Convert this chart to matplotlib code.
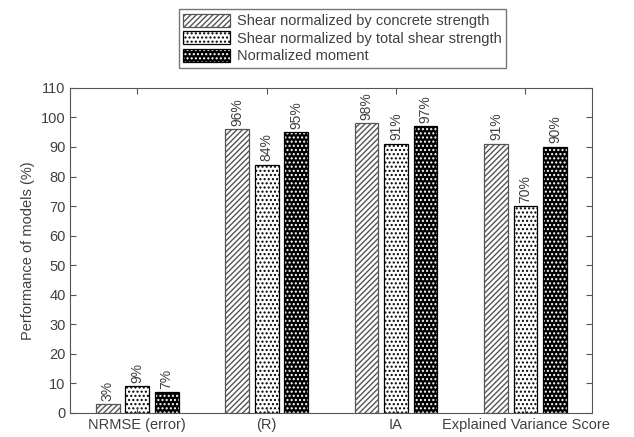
import matplotlib.pyplot as plt
import numpy as np
from matplotlib.patches import Patch

plt.rcParams['font.family'] = ['Liberation Sans', 'DejaVu Sans']
plt.rcParams['hatch.linewidth'] = 1.0

categories = ['NRMSE (error)', '(R)', 'IA', 'Explained Variance Score']
series_names = ['Shear normalized by concrete strength',
                'Shear normalized by total shear strength',
                'Normalized moment']
conc = [3, 96, 98, 91]
total = [9, 84, 91, 70]
moment = [7, 95, 97, 90]

x = np.arange(1, len(categories) + 1)
w = 0.185
step = 0.228

fig = plt.figure(figsize=(6.34, 4.37), dpi=100)
ax = fig.add_axes([0.111, 0.055, 0.823, 0.744])

txt_col = '#404040'

# series 1: grey diagonal lines
ax.bar(x - step, conc, w, color='white', edgecolor='#555555', hatch='//////', linewidth=0.9)
# series 2: black dots on white
ax.bar(x, total, w, color='white', edgecolor='black', hatch='....', linewidth=0.9)
# series 3: white dots on black
ax.bar(x + step, moment, w, color='black', edgecolor='white', hatch='....', linewidth=0)
ax.bar(x + step, moment, w, fill=False, edgecolor='black', linewidth=0.9)

for i, vals in enumerate([conc, total, moment]):
    pos = x + (i - 1) * step
    for p, v in zip(pos, vals):
        ax.text(p, v + 1.2, f'{v}%', rotation=90, ha='center', va='bottom',
                fontsize=10, color=txt_col)

ax.set_xlim(0.485, 4.515)
ax.set_ylim(0, 110)
ax.set_yticks(np.arange(0, 111, 10))
ax.set_xticks(x)
ax.set_xticklabels(categories)
ax.tick_params(direction='in', top=True, right=True, labelsize=10.5,
               colors='#555555', labelcolor=txt_col, length=4)
for s in ax.spines.values():
    s.set_color('#555555')
ax.set_ylabel('Performance of models (%)', fontsize=10.5, color=txt_col)

h1 = Patch(facecolor='white', edgecolor='#555555', hatch='//////', linewidth=0.9)
h2 = Patch(facecolor='white', edgecolor='black', hatch='....', linewidth=0.9)
h3 = (Patch(facecolor='black', edgecolor='white', hatch='....', linewidth=0),
      Patch(fill=False, edgecolor='black', linewidth=0.9))
leg = fig.legend([h1, h2, h3], series_names, loc='upper center',
                 bbox_to_anchor=(0.54, 0.995), ncol=1,
                 fontsize=10.5, frameon=True, fancybox=False, edgecolor='#555555',
                 handlelength=3.2, handleheight=1.0, borderpad=0.3,
                 labelspacing=0.2, handletextpad=0.5)
for t in leg.get_texts():
    t.set_color(txt_col)

fig.savefig('out.png', dpi=100)
